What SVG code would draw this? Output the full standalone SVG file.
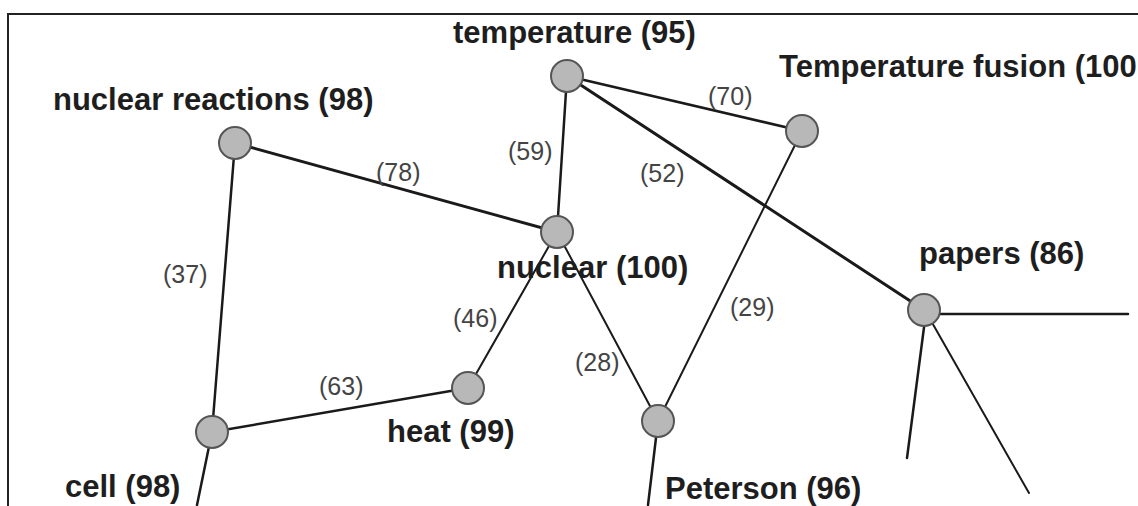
<svg xmlns="http://www.w3.org/2000/svg" width="1138" height="506" viewBox="0 0 1138 506">
<style>
.edge{stroke:#1a1a1a;stroke-width:2.5;fill:none;stroke-linecap:round}
.thin{stroke-width:2}
.thick{stroke-width:3}
.node{fill:#b8b8b8;stroke:#555;stroke-width:2}
.lbl{font-family:"Liberation Sans",Arial,sans-serif;font-weight:bold;font-size:31px;fill:#1e1e1e}
.elbl{font-family:"Liberation Sans",Arial,sans-serif;font-size:25px;fill:#444}
</style>
<rect width="1138" height="506" fill="#fff"/>
<path d="M8 506 V14 H1138" fill="none" stroke="#222" stroke-width="2"/>
<g id="connectors">
<line class="edge thick" x1="235" y1="143" x2="557" y2="232"/>
<line class="edge" x1="235" y1="143" x2="212" y2="432"/>
<line class="edge" x1="212" y1="432" x2="197" y2="505"/>
<line class="edge" x1="212" y1="432" x2="468" y2="388"/>
<line class="edge thin" x1="468" y1="388" x2="557" y2="232"/>
<line class="edge" x1="557" y1="232" x2="567" y2="76"/>
<line class="edge thin" x1="557" y1="232" x2="658" y2="421"/>
<line class="edge" x1="658" y1="421" x2="648" y2="505"/>
<line class="edge" x1="567" y1="76" x2="802" y2="131"/>
<line class="edge thick" x1="567" y1="76" x2="924" y2="310"/>
<line class="edge thin" x1="802" y1="131" x2="658" y2="421"/>
<line class="edge" x1="924" y1="314" x2="1128" y2="314"/>
<line class="edge" x1="926" y1="312" x2="907" y2="458"/>
<line class="edge thin" x1="926" y1="312" x2="1029" y2="493"/>
<text class="elbl" x="376" y="181">(78)</text>
<text class="elbl" x="508" y="160">(59)</text>
<text class="elbl" x="708" y="105">(70)</text>
<text class="elbl" x="640" y="182">(52)</text>
<text class="elbl" x="163" y="283">(37)</text>
<text class="elbl" x="453" y="327">(46)</text>
<text class="elbl" x="575" y="371">(28)</text>
<text class="elbl" x="730" y="316">(29)</text>
<text class="elbl" x="319" y="395">(63)</text>
</g>
<g id="node-temperature"><circle class="node" cx="567" cy="76" r="16"/><text class="lbl" x="453" y="43">temperature (95)</text></g>
<g id="node-temperature-fusion"><circle class="node" cx="802" cy="131" r="16"/><text class="lbl" x="779" y="77">Temperature fusion (100</text></g>
<g id="node-nuclear-reactions"><circle class="node" cx="235" cy="143" r="16"/><text class="lbl" x="53" y="110">nuclear reactions (98)</text></g>
<g id="node-nuclear"><circle class="node" cx="557" cy="232" r="16"/><text class="lbl" x="497" y="278">nuclear (100)</text></g>
<g id="node-papers"><circle class="node" cx="924" cy="310" r="16"/><text class="lbl" x="919" y="264">papers (86)</text></g>
<g id="node-heat"><circle class="node" cx="468" cy="388" r="16"/><text class="lbl" x="387" y="442">heat (99)</text></g>
<g id="node-cell"><circle class="node" cx="212" cy="432" r="16"/><text class="lbl" x="65" y="497">cell (98)</text></g>
<g id="node-peterson"><circle class="node" cx="658" cy="421" r="16"/><text class="lbl" x="665" y="499">Peterson (96)</text></g>
</svg>
